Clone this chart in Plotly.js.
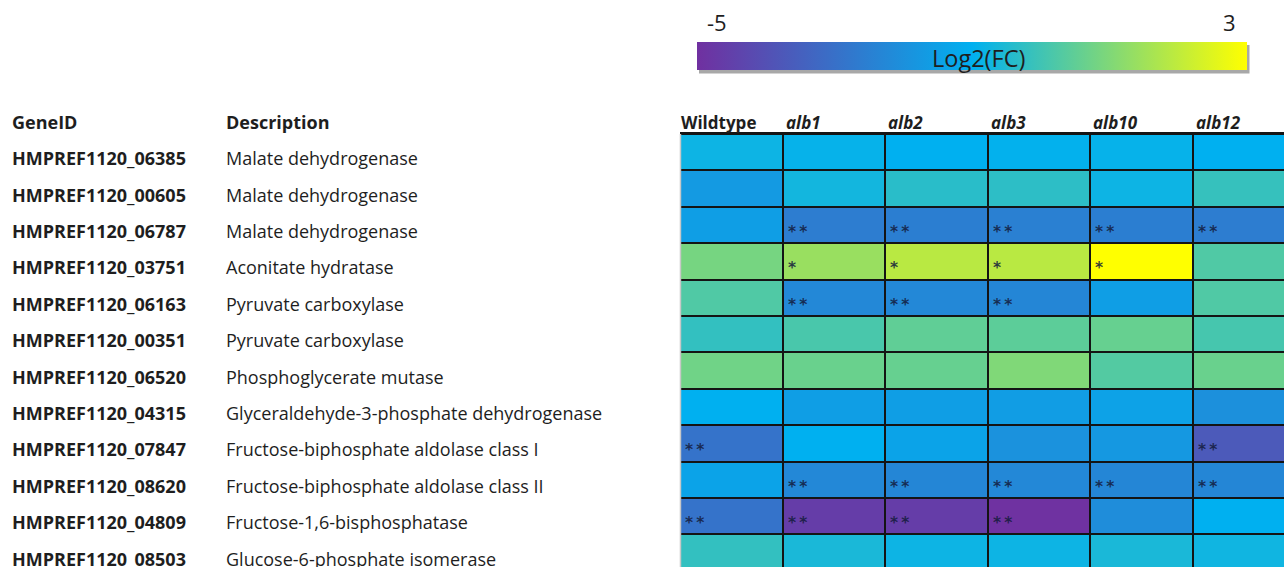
<!DOCTYPE html>
<html>
<head>
<meta charset="utf-8">
<script src="https://cdn.plot.ly/plotly-3.0.1.min.js"></script>
<style>
  html, body { margin: 0; padding: 0; background: #ffffff; }
  #chart { width: 1284px; height: 567px; }
</style>
</head>
<body>
<div id="chart"></div>
<script>
// Gene table
const geneIds = [
  'HMPREF1120_06385', 'HMPREF1120_00605', 'HMPREF1120_06787', 'HMPREF1120_03751',
  'HMPREF1120_06163', 'HMPREF1120_00351', 'HMPREF1120_06520', 'HMPREF1120_04315',
  'HMPREF1120_07847', 'HMPREF1120_08620', 'HMPREF1120_04809', 'HMPREF1120_08503'
];
const descriptions = [
  'Malate dehydrogenase', 'Malate dehydrogenase', 'Malate dehydrogenase', 'Aconitate hydratase',
  'Pyruvate carboxylase', 'Pyruvate carboxylase', 'Phosphoglycerate mutase',
  'Glyceraldehyde-3-phosphate dehydrogenase', 'Fructose-biphosphate aldolase class I',
  'Fructose-biphosphate aldolase class II', 'Fructose-1,6-bisphosphatase', 'Glucose-6-phosphate isomerase'
];
const strains = ['Wildtype', 'alb1', 'alb2', 'alb3', 'alb10', 'alb12'];

// Log2 fold change per strain (one value per gene, same order as geneIds)
const wildtype = [-0.8, -1.7, -1.55, 0.85, 0.25, -0.2, 0.75, -1.0, -2.9, -1.4, -2.9, -0.2];
const alb1     = [-0.9, -0.7, -2.6, 1.4, -2.25, 0.15, 0.65, -1.55, -1.0, -2.25, -4.6, -0.6];
const alb2     = [-1.0, -0.35, -2.55, 1.9, -2.25, 0.5, 0.6, -1.55, -1.4, -2.3, -4.6, -0.8];
const alb3     = [-0.95, -0.3, -2.5, 1.9, -2.3, 0.45, 1.0, -1.6, -1.95, -2.25, -4.95, -0.8];
const alb10    = [-0.9, -0.8, -2.55, 3.0, -1.55, 0.6, 0.3, -1.45, -1.75, -2.3, -2.1, -0.6];
const alb12    = [-1.0, -0.15, -2.6, 0.25, 0.25, 0.1, 0.65, -2.0, -3.7, -2.3, -1.0, -0.75];

// Significance marks per strain
const sigWildtype = ['', '', '', '', '', '', '', '', '**', '', '**', ''];
const sigAlb1     = ['', '', '**', '*', '**', '', '', '', '', '**', '**', ''];
const sigAlb2     = ['', '', '**', '*', '**', '', '', '', '', '**', '**', ''];
const sigAlb3     = ['', '', '**', '*', '**', '', '', '', '', '**', '**', ''];
const sigAlb10    = ['', '', '**', '*', '', '', '', '', '', '**', '', ''];
const sigAlb12    = ['', '', '**', '', '', '', '', '', '**', '**', '', ''];

// Colour scale limits
const scaleMin = -5;
const scaleMax = 3;
const scaleLabel = 'Log2(FC)';

const columns = [wildtype, alb1, alb2, alb3, alb10, alb12];
const sigColumns = [sigWildtype, sigAlb1, sigAlb2, sigAlb3, sigAlb10, sigAlb12];

const z = geneIds.map((g, r) => columns.map(col => col[r]));

const W = 1284, H = 567;
const plotLeft = 680, plotTop = 132;
const plotW = W - plotLeft, plotH = H - plotTop;
const colW = 102.55, rowH = 36.4;
const firstRowTop = 134;

const px2paperX = p => (p - plotLeft) / plotW;
const px2paperY = p => (H - p) / plotH;

const textFont = '"Open Sans", Lato, sans-serif';
const textColor = '#1e1e1e';

const annotations = [];

// Left-hand table: headers and rows
annotations.push({
  xref: 'paper', yref: 'paper', x: px2paperX(10), y: px2paperY(122),
  xanchor: 'left', yanchor: 'middle', showarrow: false,
  text: '<b>GeneID</b>', font: { family: textFont, size: 18, color: textColor }
});
annotations.push({
  xref: 'paper', yref: 'paper', x: px2paperX(224), y: px2paperY(122),
  xanchor: 'left', yanchor: 'middle', showarrow: false,
  text: '<b>Description</b>', font: { family: textFont, size: 18, color: textColor }
});
geneIds.forEach((g, r) => {
  annotations.push({
    xref: 'paper', yref: 'y', x: px2paperX(10), y: g, yshift: -6,
    xanchor: 'left', yanchor: 'middle', showarrow: false,
    text: '<b>' + g + '</b>', font: { family: textFont, size: 18, color: textColor }
  });
  annotations.push({
    xref: 'paper', yref: 'y', x: px2paperX(224), y: g, yshift: -6,
    xanchor: 'left', yanchor: 'middle', showarrow: false,
    text: descriptions[r], font: { family: textFont, size: 18, color: textColor }
  });
});

// Strain headers
strains.forEach((s, c) => {
  const label = c === 0 ? '<b>' + s + '</b>' : '<b><i>' + s + '</i></b>';
  annotations.push({
    xref: 'x', yref: 'paper', x: c - 0.5, xshift: c === 0 ? -1 : 1,
    y: px2paperY(122), xanchor: 'left', yanchor: 'middle', showarrow: false,
    text: label, font: { family: textFont, size: 17, color: textColor }
  });
});

// Significance marks inside the cells
sigColumns.forEach((sig, c) => {
  sig.forEach((mark, r) => {
    if (!mark) return;
    annotations.push({
      xref: 'x', yref: 'y', x: c - 0.5, y: geneIds[r], xshift: 3, yshift: -7,
      xanchor: 'left', yanchor: 'middle', showarrow: false,
      text: '<b>' + mark.split('').join('\u2009') + '</b>',
      font: { family: 'DejaVu Sans', size: 15.5, color: 'rgba(20,28,60,0.85)' }
    });
  });
});

// Colour bar labels
annotations.push({
  xref: 'paper', yref: 'paper', x: px2paperX(717), y: px2paperY(22),
  xanchor: 'center', yanchor: 'middle', showarrow: false,
  text: String(scaleMin), font: { family: textFont, size: 22, color: textColor }
});
annotations.push({
  xref: 'paper', yref: 'paper', x: px2paperX(1229), y: px2paperY(22),
  xanchor: 'center', yanchor: 'middle', showarrow: false,
  text: String(scaleMax), font: { family: textFont, size: 22, color: textColor }
});
annotations.push({
  xref: 'paper', yref: 'paper', x: px2paperX(978), y: px2paperY(58),
  xanchor: 'center', yanchor: 'middle', showarrow: false,
  text: scaleLabel, font: { family: textFont, size: 23.5, color: textColor }
});

const trace = {
  type: 'heatmap',
  z: z,
  x: strains,
  y: geneIds,
  zmin: scaleMin,
  zmax: scaleMax,
  colorscale: [[0, '#7030A0'], [0.5, '#00B0F0'], [1, '#FFFF00']],
  xgap: 2,
  ygap: 2,
  hoverinfo: 'skip',
  colorbar: {
    orientation: 'h',
    lenmode: 'pixels', len: 550,
    thicknessmode: 'pixels', thickness: 28,
    x: px2paperX(972), xanchor: 'center',
    y: px2paperY(42), yanchor: 'top',
    xpad: 0, ypad: 0,
    outlinewidth: 0,
    ticks: '', showticklabels: false
  }
};

const yRangeTop = -0.5 - (firstRowTop - plotTop) / rowH;
const yRangeBottom = -0.5 + (H - firstRowTop) / rowH;

const layout = {
  width: W, height: H,
  margin: { l: plotLeft, r: 0, t: plotTop, b: 0, pad: 0 },
  paper_bgcolor: '#ffffff',
  plot_bgcolor: '#141414',
  showlegend: false,
  xaxis: {
    type: 'category', range: [-0.5, -0.5 + plotW / colW],
    showticklabels: false, showgrid: false, zeroline: false, ticks: '', fixedrange: true
  },
  yaxis: {
    type: 'category', range: [yRangeBottom, yRangeTop],
    showticklabels: false, showgrid: false, zeroline: false, ticks: '', fixedrange: true
  },
  shapes: [
    // soft shadow under the colour bar
    {
      type: 'rect', xref: 'paper', yref: 'paper', layer: 'above',
      x0: px2paperX(699), x1: px2paperX(1249.5),
      y0: px2paperY(73.5), y1: px2paperY(45),
      fillcolor: '#a8a8a8', line: { width: 0 }
    },
    // light edge on the left of the grid
    {
      type: 'line', xref: 'paper', yref: 'paper', layer: 'above',
      x0: 0.0008, x1: 0.0008, y0: 0, y1: px2paperY(firstRowTop),
      line: { color: '#c8c8c8', width: 1.5 }
    }
  ],
  annotations: annotations
};

Plotly.newPlot('chart', [trace], layout, { displayModeBar: false, staticPlot: true });
</script>
</body>
</html>
